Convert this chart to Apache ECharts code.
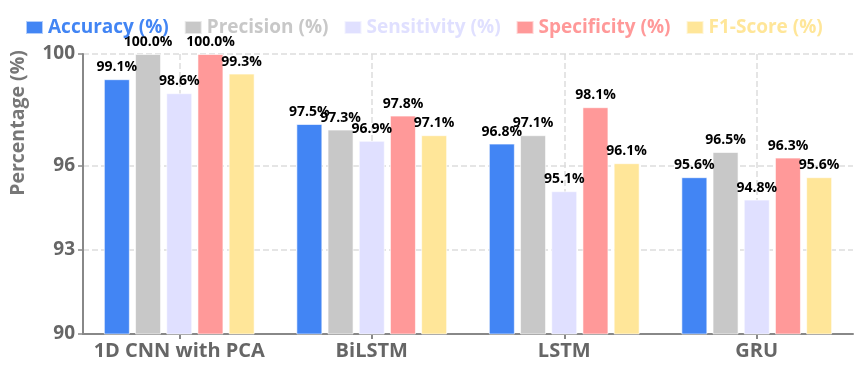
<!DOCTYPE html>
<html>
<head>
<meta charset="utf-8">
<script src="https://cdn.jsdelivr.net/npm/echarts@6/dist/echarts.min.js"></script>
<style>html,body{margin:0;padding:0;background:#fff}#c{width:866px;height:366px}</style>
</head>
<body>
<div id="c"></div>
<script>
const categories = ['1D CNN with PCA', 'BiLSTM', 'LSTM', 'GRU'];
const seriesNames = ['Accuracy (%)', 'Precision (%)', 'Sensitivity (%)', 'Specificity (%)', 'F1-Score (%)'];
const accuracy = [99.1, 97.5, 96.8, 95.6];
const precision = [100.0, 97.3, 97.1, 96.5];
const sensitivity = [98.6, 96.9, 95.1, 94.8];
const specificity = [100.0, 97.8, 98.1, 96.3];
const f1score = [99.3, 97.1, 96.1, 95.6];
const yTicks = [90, 93, 96, 100];
const colors = ['#4285F4', '#C8C8C8', '#E0E0FF', '#FF9999', '#FFE699'];

const FONT = '"Open Sans", "Noto Sans", sans-serif';
const allValues = [accuracy, precision, sensitivity, specificity, f1score];

const chart = echarts.init(document.getElementById('c'), null, {renderer: 'canvas'});
chart.setOption({
  animation: false,
  color: colors,
  textStyle: {fontFamily: FONT},
  legend: {
    top: 13,
    left: 20,
    itemWidth: 17,
    itemHeight: 13,
    itemGap: 15,
    icon: 'rect',
    data: seriesNames,
    textStyle: {fontSize: 19, fontWeight: 'bold', fontFamily: FONT, color: 'inherit'}
  },
  grid: {left: 81, right: 13, top: 54, bottom: 32},
  xAxis: {
    type: 'category',
    data: categories,
    axisLine: {lineStyle: {color: '#888', width: 2}},
    axisTick: {show: true, alignWithLabel: true, length: 5, lineStyle: {color: '#888', width: 2}},
    axisLabel: {interval: 0, fontSize: 20, fontWeight: 'bold', color: '#666', margin: 7, fontFamily: FONT},
    splitLine: {show: true, alignWithLabel: true, lineStyle: {type: 'dashed', color: '#ddd', width: 1.5}}
  },
  yAxis: {
    type: 'value',
    min: 90,
    max: 100,
    name: 'Percentage (%)',
    nameLocation: 'middle',
    nameGap: 55,
    nameTextStyle: {fontSize: 19.5, fontWeight: 'bold', color: '#777', fontFamily: FONT, padding: [0, 0, 0, 142]},
    axisLine: {show: true, lineStyle: {color: '#888', width: 2}},
    axisTick: {show: true, length: 5, customValues: yTicks, lineStyle: {color: '#888', width: 1.5}},
    axisLabel: {fontSize: 19, fontWeight: 'bold', color: '#666', customValues: yTicks, margin: 8, fontFamily: FONT},
    splitLine: {show: true, lineStyle: {type: 'dashed', color: '#ddd', width: 1.5}}
  },
  series: seriesNames.map((name, i) => ({
    name: name,
    type: 'bar',
    data: allValues[i],
    barWidth: 26,
    barGap: '20%',
    itemStyle: {color: colors[i], borderColor: 'rgba(255,255,255,0.6)', borderWidth: 1},
    label: {
      show: true,
      position: 'top',
      distance: 5,
      fontSize: 14,
      fontWeight: 'bold',
      color: '#000',
      fontFamily: FONT,
      formatter: p => p.value.toFixed(1) + '%'
    }
  }))
});
</script>
</body>
</html>
